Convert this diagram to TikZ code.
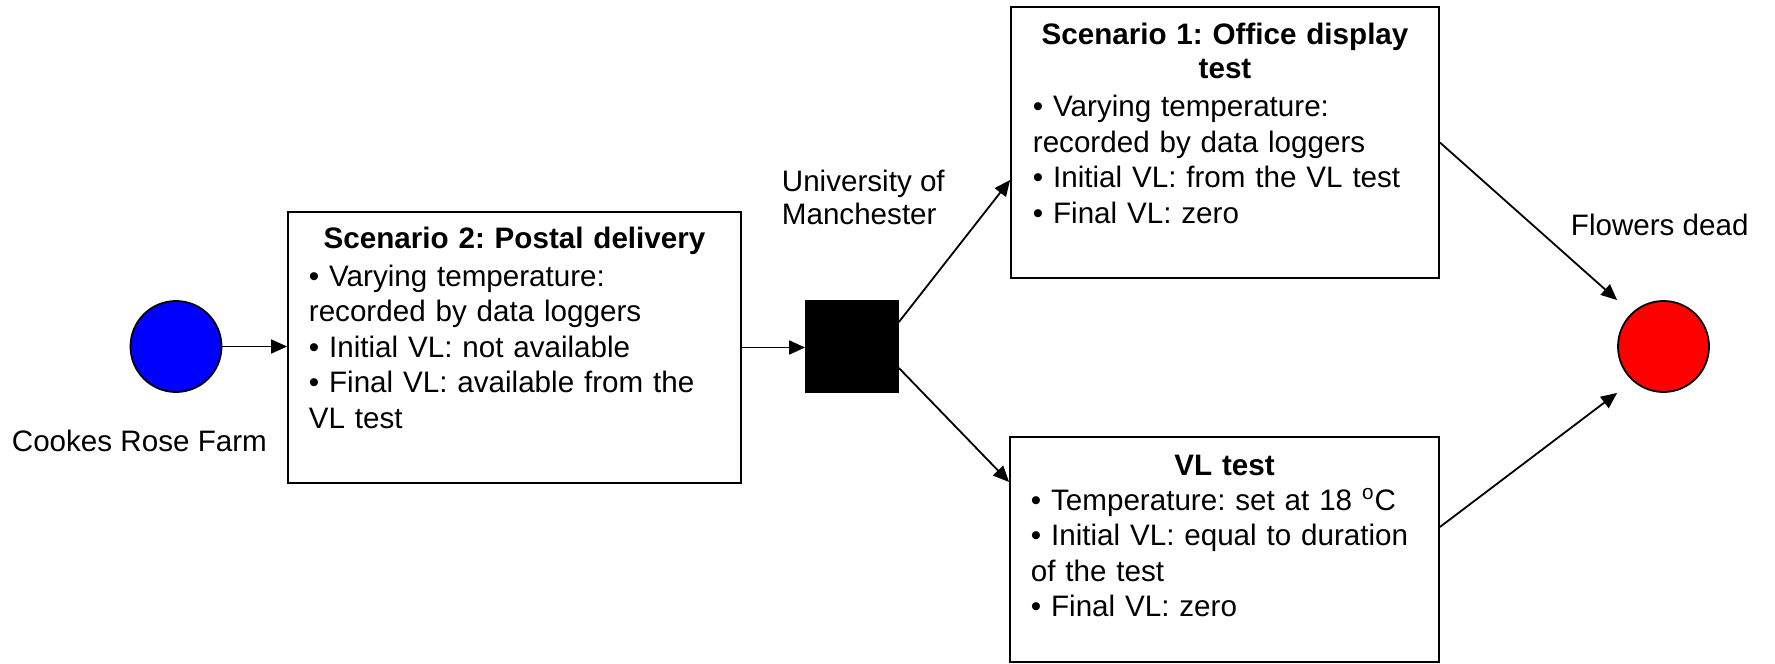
\documentclass[tikz,border=0pt]{standalone}
\usepackage{fontspec}
\setmainfont{Liberation Sans}
\usetikzlibrary{arrows.meta,calc}
\frenchspacing
\begin{document}
\begin{tikzpicture}[x=0.5pt,y=-0.5pt,
  font=\fontsize{14.8}{17.75}\selectfont,
  line width=0.9pt,
  conn/.style={-{Triangle[length=8pt,width=7pt]}},
  card/.style={draw,rectangle,inner sep=0pt},
  txt/.style={anchor=base west,inner sep=0pt,align=left,text width=220pt},
  ttl/.style={anchor=base,inner sep=0pt,align=center,text width=220pt,
    font=\fontsize{14.8}{17}\selectfont\bfseries},
  lbl/.style={anchor=base west,inner sep=0pt,align=left,
    font=\fontsize{14.8}{17}\selectfont},
  dot/.style={circle,draw,inner sep=0pt,minimum size=45.5pt}]
\useasboundingbox (0,0) rectangle (1775,663);

% start and end points
\node[dot,fill={rgb,255:red,0;green,0;blue,255}] (farm) at (176,346.5) {};
\node[dot,fill={rgb,255:red,255;green,0;blue,0}] (dead) at (1663.5,346.5) {};
\node[draw,fill=black,inner sep=0pt,minimum width=46pt,minimum height=45.5pt] (uni) at (852,346.5) {};

% labels
\node[lbl] (farmlbl) at (11,451) {Cookes Rose Farm};
\node[lbl] (unilbl) at (781,225) {University of\\Manchester};
\node[lbl] (deadlbl) at (1570,235) {Flowers dead};

% scenario 2
\node[card,minimum width=226.5pt,minimum height=135.5pt] (post) at (514.5,347.5) {};
\node[ttl] (postttl) at (514.5,249) {Scenario 2: Postal delivery};
\node[txt] (posttxt) at (308,286) {• Varying temperature:\\recorded by data loggers\\• Initial VL: not available\\• Final VL: available from the\\VL test};

% scenario 1
\node[card,minimum width=214pt,minimum height=135.5pt] (office) at (1225,142.5) {};
\node[ttl] (officettl) at (1225,45) {Scenario 1: Office display\\test};
\node[txt] (officetxt) at (1032,117) {• Varying temperature:\\recorded by data loggers\\• Initial VL: from the VL test\\• Final VL: zero};

% VL test
\node[card,minimum width=214.5pt,minimum height=112.5pt] (vl) at (1224.5,549.5) {};
\node[ttl] (vlttl) at (1224.5,475) {VL test};
\node[txt] (vltxt) at (1030,510) {• Temperature: set at 18 \textsuperscript{o}C\\• Initial VL: equal to duration\\of the test\\• Final VL: zero};

% connectors
\draw[conn] (farm.east) -- (farm.east -| post.west);
\draw[conn] (post.east) -- (post.east -| uni.west);
\draw[conn] ([yshift=12.25pt]uni.east) -- ([yshift=-18.75pt]office.west);
\draw[conn] ([yshift=-10.75pt]uni.east) -- ([yshift=33.75pt]vl.west);
\draw[conn] (office.east) -- (dead.west |- dead.north);
\draw[conn] ([yshift=11.25pt]vl.east) -- (dead.west |- dead.south);
\end{tikzpicture}
\end{document}
